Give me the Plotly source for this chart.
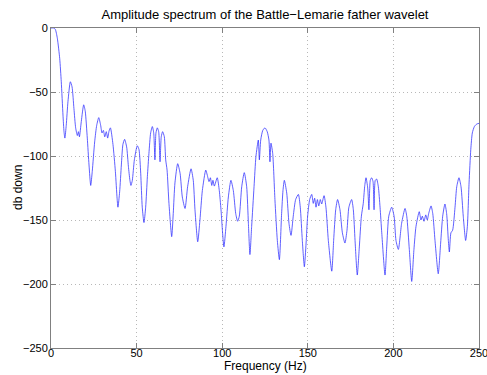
import plotly.graph_objects as go

freq_hz = [
    0, 1.5, 2.5, 3.7, 5.1, 6.0, 7.0, 7.6, 8.1, 8.9, 9.9, 11.3, 12.3, 13.4, 14.4, 15.4, 16.0, 16.6,
    17.7, 19.1, 20.0, 21.2, 22.2, 23.2, 24.1, 25.5, 26.7, 27.9, 29.0, 29.8, 30.6, 31.4, 32.3,
    33.1, 33.9, 34.7, 36.2, 37.6, 38.6, 39.1, 40.1, 41.1, 42.0, 43.0, 44.2, 45.2, 46.1, 46.7,
    47.5, 48.7, 50.4, 51.4, 52.4, 53.3, 54.3, 55.3, 56.3, 57.2, 58.2, 59.2, 60.0, 60.7, 61.3,
    62.1, 62.9, 63.7, 64.4, 65.2, 66.2, 67.0, 67.8, 68.9, 70.5, 71.4, 72.4, 74.0, 75.4, 76.7,
    78.3, 79.8, 81.8, 83.1, 84.1, 85.7, 87.0, 88.4, 90.4, 91.3, 92.3, 93.1, 93.9, 94.6, 95.4,
    97.1, 98.3, 99.3, 101.0, 102.2, 103.6, 105.1, 106.5, 107.9, 109.0, 110.0, 111.4, 112.9,
    114.3, 115.3, 116.2, 117.2, 118.6, 119.7, 121.1, 121.7, 122.5, 123.7, 125.0, 126.3, 127.3,
    127.9, 128.5, 129.5, 130.8, 132.2, 133.4, 134.7, 135.5, 136.3, 137.7, 139.0, 140.2, 141.5,
    142.9, 144.5, 145.6, 146.8, 148.0, 149.0, 149.9, 151.1, 152.3, 153.2, 154.0, 154.8, 155.6,
    156.4, 157.3, 158.1, 159.5, 160.6, 162.0, 164.0, 165.1, 166.3, 167.4, 168.8, 170.2, 171.7,
    172.9, 174.0, 175.6, 176.6, 177.6, 178.9, 180.1, 181.3, 182.4, 183.2, 184.0, 185.0, 185.7,
    186.5, 187.3, 188.1, 188.7, 189.4, 190.2, 191.2, 192.2, 193.2, 195.1, 196.1, 197.3, 199.0,
    200.4, 201.5, 202.9, 204.8, 206.8, 207.8, 209.3, 210.7, 212.0, 213.2, 215.1, 216.1, 216.9,
    217.9, 218.9, 219.8, 220.6, 222.0, 223.0, 224.3, 226.2, 227.6, 228.8, 230.1, 231.1, 232.1,
    232.7, 233.6, 234.6, 236.0, 237.0, 238.3, 239.5, 240.8, 242.2, 243.2, 244.2, 245.2, 246.1,
    247.3, 248.7, 250.0,
]

db_down = [
    0, 0, -1, -8, -24, -42, -68, -81, -86, -76, -57.6, -42, -46, -63, -78, -84, -81, -85,
    -73, -60, -65, -86, -107, -123, -112, -89, -76, -70, -76, -82, -80, -85, -81,
    -86, -80.5, -78, -91, -112, -133, -140, -128, -107, -91, -87, -93, -108, -119, -123,
    -119, -103, -92, -95, -113.5, -140, -152, -140, -116, -98, -82, -77, -82, -103, -82,
    -78, -81, -104.5, -85, -81, -85, -103, -111, -137, -163, -145, -121, -106, -113.5, -132,
    -141, -124, -110, -119, -142, -167, -150, -127, -111, -115, -120, -117, -123, -119, -123.5,
    -117, -127, -142, -171, -155, -132, -119, -127, -145, -151, -147, -124, -113,
    -124, -152.6, -177, -155, -124, -100.5, -87.5, -103, -87.5, -80, -78, -81, -87.5,
    -104.5, -90, -98, -134, -166, -181, -145, -127, -119, -129, -152.6, -162, -147,
    -134, -130, -140, -166, -186.5, -168, -147, -134, -130, -137, -133, -140, -134,
    -139, -134, -137.5, -131, -140, -166, -190, -166, -142, -134, -142, -160, -168,
    -158, -140, -134, -142, -166, -193, -171, -147, -137, -124, -117, -125, -142,
    -119, -117, -120, -142, -119, -118, -124, -140, -160, -193, -171, -147, -140,
    -147, -166, -173, -152.6, -141, -147, -173, -198, -173, -155, -143.5, -150, -147,
    -151, -146, -150, -145, -139, -145, -166, -192, -168, -147, -137.5, -145, -166,
    -175, -160, -158, -140, -124, -117, -124, -147, -166, -155, -121, -95, -82,
    -77, -75, -74.5,
]

x_ticks = [0, 50, 100, 150, 200, 250]
y_ticks = [0, -50, -100, -150, -200, -250]

FONT = "Liberation Sans, Arial, sans-serif"

fig = go.Figure()
fig.add_trace(go.Scatter(
    x=freq_hz, y=db_down, mode="lines",
    line=dict(color="#2b2bff", width=0.75, shape="spline", smoothing=0.6),
    showlegend=False, hoverinfo="skip",
))

axis_common = dict(
    showline=True, linecolor="#808080", linewidth=1, mirror="ticks",
    ticks="inside", ticklen=5, tickcolor="#808080",
    showgrid=True, gridcolor="#b8b8b8", griddash="1px,3px", gridwidth=1,
    zeroline=False, ticklabeloverflow="allow", automargin=False,
    tickfont=dict(family=FONT, size=11, color="black"),
)

fig.update_xaxes(range=[0, 250.001], tickvals=x_ticks, ticklabelstandoff=-5, **axis_common)
fig.update_yaxes(range=[-250.001, 0.001], tickvals=y_ticks, **axis_common)

fig.update_layout(
    width=487, height=375,
    margin=dict(l=51, r=8, t=28, b=27),
    paper_bgcolor="white", plot_bgcolor="white",
    title=dict(
        text="Amplitude spectrum of the Battle\u2212Lemarie father wavelet",
        x=(51 + 479) / 2 / 487, xanchor="center", y=1 - 14 / 375, yanchor="middle",
        font=dict(family=FONT, size=13, color="black"),
    ),
    annotations=[
        dict(text="Frequency (Hz)", xref="paper", yref="paper", x=0.5, y=-(366 - 348) / 320,
             xanchor="center", yanchor="middle", showarrow=False,
             font=dict(family=FONT, size=12, color="black")),
        dict(text="db down", xref="paper", yref="paper", x=0, y=0.5, xshift=-33,
             xanchor="center", yanchor="middle", textangle=-90, showarrow=False,
             font=dict(family=FONT, size=12, color="black")),
    ],
)

fig.write_html("out.html")
